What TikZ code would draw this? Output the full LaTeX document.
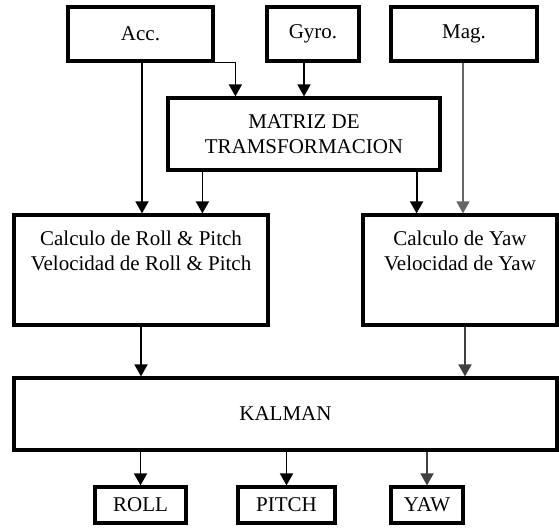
\documentclass[tikz,border=0pt]{standalone}
\usepackage{fontspec}
\setmainfont{Liberation Serif}
\usetikzlibrary{arrows.meta,positioning,calc}

\begin{document}
\begin{tikzpicture}[x=1pt,y=-1pt,
				blk/.style={draw,line width=3.2pt,inner sep=0pt,align=center,
					font=\fontsize{21}{25}\selectfont},
				flow/.style={-{Triangle[width=13pt,length=12pt]},line width=1.8pt}]
				\useasboundingbox (0,0) rectangle (559,527);
				% sensores
				\node[blk,minimum width=145,minimum height=54] (acc) at (140.5,34) {Acc.};
				\node[blk,minimum width=92,minimum height=54] (gyro) at (313,34) {Gyro.};
				\node[blk,minimum width=146,minimum height=54] (mag) at (464,34) {Mag.};
				\node[blk,minimum width=272,minimum height=72] (mat) at (304,134) {MATRIZ DE\\TRAMSFORMACION};
				% calculo
				\node[blk,minimum width=254,minimum height=110] (rp) at (141,270) {Calculo de Roll \& Pitch\\Velocidad de Roll \& Pitch\\[14pt]};
				\node[blk,minimum width=194,minimum height=110] (yw) at (460,270) {Calculo de Yaw\\Velocidad de Yaw\\[14pt]};
				\node[blk,minimum width=543,minimum height=72] (kal) at (285.5,414) {KALMAN};
				% salidas
				\node[blk,minimum width=91,minimum height=36] (roll) at (140.5,505) {ROLL};
				\node[blk,minimum width=97,minimum height=36] (pitch) at (286.5,505) {PITCH};
				\node[blk,minimum width=72,minimum height=36] (yaw) at (427,505) {YAW};
				\draw[flow] (acc.south east) -| ([xshift=69]mat.north west);
				\draw[flow] (gyro.south -| mat.north) -- (mat.north);
				\draw[flow] ([xshift=1.5]acc.south) -- ([xshift=1.5]acc.south |- rp.north);
				\draw[flow] ([xshift=36]mat.south west) -- ([xshift=36]mat.south west |- rp.north);
				\draw[flow] ([xshift=-25]mat.south east) -- ([xshift=-25]mat.south east |- yw.north);
				\draw[flow,draw=black!60,line width=1.4pt] ([xshift=-1]mag.south) -- ([xshift=-1]mag.south |- yw.north);
				\draw[flow] (rp.south) -- (rp.south |- kal.north);
				\draw[flow,draw=black!75] ([xshift=5]yw.south) -- ([xshift=5]yw.south |- kal.north);
				\draw[flow] (kal.south -| roll.north) -- (roll.north);
				\draw[flow] (kal.south -| pitch.north) -- (pitch.north);
				\draw[flow,draw=black!75] (kal.south -| yaw.north) -- (yaw.north);
			\end{tikzpicture}
\end{document}
